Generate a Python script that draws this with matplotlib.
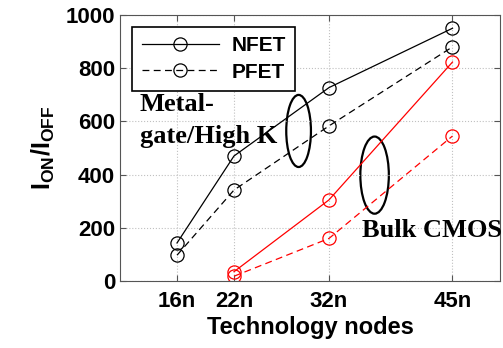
import numpy as np
import matplotlib.pyplot as plt
from matplotlib.patches import Ellipse

# technology nodes (nm) and Ion/Ioff ratios
nodes_mg = [16, 22, 32, 45]
nfet_mg = [143, 470, 727, 950]
pfet_mg = [97, 342, 583, 880]

nodes_bulk = [22, 32, 45]
nfet_bulk = [35, 305, 823]
pfet_bulk = [18, 160, 545]

xtick_vals = [16, 22, 32, 45]
xtick_labels = ['16n', '22n', '32n', '45n']
ytick_vals = [0, 200, 400, 600, 800, 1000]

plt.rcParams['font.family'] = ['Liberation Sans', 'DejaVu Sans']
plt.rcParams['mathtext.fontset'] = 'custom'
plt.rcParams['mathtext.rm'] = 'Liberation Sans:bold'
plt.rcParams['mathtext.bf'] = 'Liberation Sans:bold'

fig = plt.figure(figsize=(5.03, 3.48), dpi=100)
ax = fig.add_axes([0.2386, 0.1925, 0.7554, 0.7645])

ms = 9.5
lw = 0.9
dash = [5.5, 3.5]
ax.plot(nodes_mg, nfet_mg, '-', color='black', lw=lw, marker='o', ms=ms,
        mfc='none', mec='black', mew=lw, label='NFET')
ax.plot(nodes_mg, pfet_mg, '--', dashes=dash, color='black', lw=lw, marker='o',
        ms=ms, mfc='none', mec='black', mew=lw, label='PFET')
ax.plot(nodes_bulk, nfet_bulk, '-', color='red', lw=lw, marker='o', ms=ms,
        mfc='none', mec='red', mew=lw)
ax.plot(nodes_bulk, pfet_bulk, '--', dashes=dash, color='red', lw=lw, marker='o',
        ms=ms, mfc='none', mec='red', mew=lw)

# ellipses grouping the two families
ax.add_patch(Ellipse((28.8, 564), 2.6, 271, fill=False, ec='black', lw=1.6))
ax.add_patch(Ellipse((36.8, 398), 3.0, 290, fill=False, ec='black', lw=1.6))

ax.text(12.1, 639, 'Metal-', family='Liberation Serif',
        fontweight='bold', fontsize=19, va='baseline', ha='left')
ax.text(12.1, 519, 'gate/High K', family='Liberation Serif',
        fontweight='bold', fontsize=19, va='baseline', ha='left')
ax.text(35.5, 165, 'Bulk CMOS', family='Liberation Serif',
        fontweight='bold', fontsize=19, va='baseline', ha='left')

ax.set_xlim(10, 50)
ax.set_ylim(0, 1000)
ax.set_xticks(xtick_vals)
ax.set_xticklabels(xtick_labels)
ax.set_yticks(ytick_vals)
ax.tick_params(direction='in', length=4, labelsize=16, top=True, right=True,
               color='#555555')
ax.tick_params(axis='x', pad=7)
for lab in ax.get_xticklabels() + ax.get_yticklabels():
    lab.set_fontweight('bold')
for sp in ax.spines.values():
    sp.set_color('#555555')
ax.grid(True, linestyle=':', color='#c0c0c0', lw=0.8)

ax.set_xlabel('Technology nodes', fontsize=17, fontweight='bold', labelpad=3)
ax.set_ylabel(r'I$_{\mathbf{ON}}$/I$_{\mathbf{OFF}}$', fontsize=18,
              fontweight='bold', labelpad=6)

leg = ax.legend(loc='upper left', bbox_to_anchor=(0.032, 0.955),
                borderaxespad=0, prop={'weight': 'bold', 'size': 15},
                fancybox=False, framealpha=1, edgecolor='black',
                handlelength=3.7, borderpad=0.45, labelspacing=0.35,
                handletextpad=0.6)
leg.get_frame().set_linewidth(1.2)

fig.savefig('out.png', dpi=100)
